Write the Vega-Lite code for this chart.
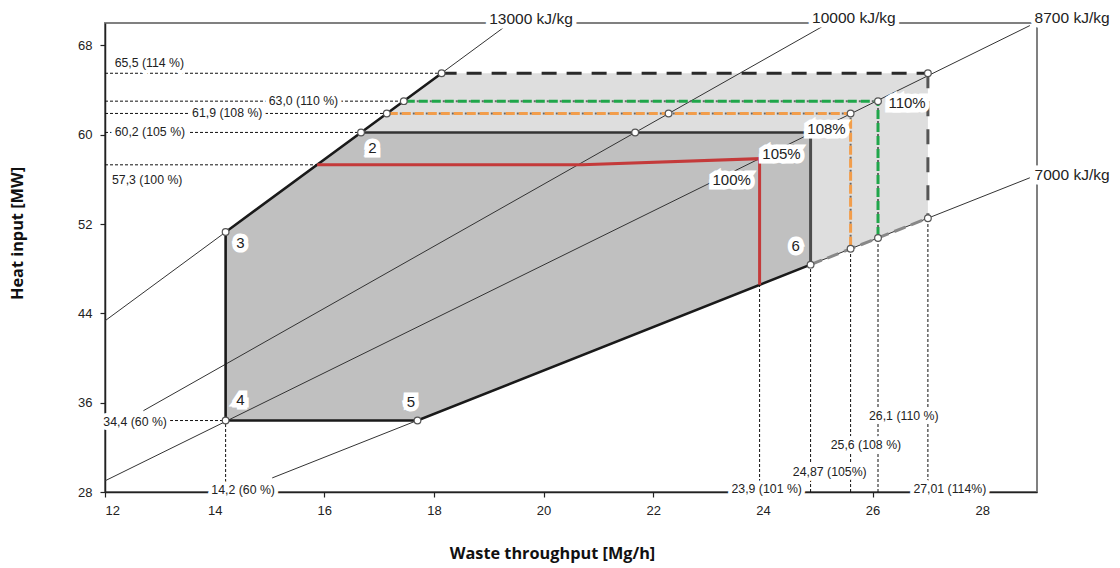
{
  "$schema": "https://vega.github.io/schema/vega-lite/v6.json",
  "width": 932,
  "height": 469,
  "autosize": {"type": "none"},
  "padding": {"left": 105, "top": 23, "right": 83, "bottom": 76},
  "config": {
    "view": {"stroke": "#808080", "strokeWidth": 2},
    "font": "Liberation Sans"
  },
  "datasets": {
    "areaLight": [
      {"x": 16.67, "y": 60.2, "y2": 60.2},
      {"x": 18.14, "y": 65.5, "y2": 60.2},
      {"x": 24.87, "y": 65.5, "y2": 48.36},
      {"x": 27.01, "y": 65.5, "y2": 52.52}
    ],
    "areaDark": [
      {"x": 14.2, "y": 51.28, "y2": 34.4},
      {"x": 16.67, "y": 60.2, "y2": 34.4},
      {"x": 17.7, "y": 60.2, "y2": 34.4},
      {"x": 24.87, "y": 60.2, "y2": 48.36}
    ],
    "lines": [
      {"s": "thin", "id": "L13", "o": 0, "x": 12, "y": 43.33},
      {"s": "thin", "id": "L13", "o": 1, "x": 19.27, "y": 69.59},
      {"s": "thin", "id": "L10", "o": 0, "x": 12.7, "y": 35.28},
      {"s": "thin", "id": "L10", "o": 1, "x": 25.07, "y": 69.64},
      {"s": "thin", "id": "L87", "o": 0, "x": 12, "y": 29.0},
      {"s": "thin", "id": "L87", "o": 1, "x": 28.87, "y": 69.77},
      {"s": "thin", "id": "L70", "o": 0, "x": 15.05, "y": 29.26},
      {"s": "thin", "id": "L70", "o": 1, "x": 28.87, "y": 56.14},

      {"s": "ref", "id": "H655", "o": 0, "x": 12, "y": 65.5},
      {"s": "ref", "id": "H655", "o": 1, "x": 18.14, "y": 65.5},
      {"s": "ref", "id": "H630", "o": 0, "x": 12, "y": 63.0},
      {"s": "ref", "id": "H630", "o": 1, "x": 17.45, "y": 63.0},
      {"s": "ref", "id": "H619", "o": 0, "x": 12, "y": 61.9},
      {"s": "ref", "id": "H619", "o": 1, "x": 17.14, "y": 61.9},
      {"s": "ref", "id": "H602", "o": 0, "x": 12, "y": 60.2},
      {"s": "ref", "id": "H602", "o": 1, "x": 16.67, "y": 60.2},
      {"s": "ref", "id": "H573", "o": 0, "x": 12, "y": 57.3},
      {"s": "ref", "id": "H573", "o": 1, "x": 15.87, "y": 57.3},
      {"s": "ref", "id": "H344", "o": 0, "x": 12, "y": 34.4},
      {"s": "ref", "id": "H344", "o": 1, "x": 14.2, "y": 34.4},
      {"s": "ref", "id": "V142", "o": 0, "x": 14.2, "y": 28},
      {"s": "ref", "id": "V142", "o": 1, "x": 14.2, "y": 34.4},
      {"s": "ref", "id": "V239", "o": 0, "x": 23.94, "y": 28},
      {"s": "ref", "id": "V239", "o": 1, "x": 23.94, "y": 46.55},
      {"s": "ref", "id": "V2487", "o": 0, "x": 24.87, "y": 28},
      {"s": "ref", "id": "V2487", "o": 1, "x": 24.87, "y": 48.36},
      {"s": "ref", "id": "V256", "o": 0, "x": 25.6, "y": 28},
      {"s": "ref", "id": "V256", "o": 1, "x": 25.6, "y": 49.78},
      {"s": "ref", "id": "V261", "o": 0, "x": 26.1, "y": 28},
      {"s": "ref", "id": "V261", "o": 1, "x": 26.1, "y": 50.75},
      {"s": "ref", "id": "V2701", "o": 0, "x": 27.01, "y": 28},
      {"s": "ref", "id": "V2701", "o": 1, "x": 27.01, "y": 52.52},

      {"s": "bound", "id": "B1", "o": 0, "x": 18.14, "y": 65.5},
      {"s": "bound", "id": "B1", "o": 1, "x": 16.67, "y": 60.2},
      {"s": "bound", "id": "B1", "o": 2, "x": 14.2, "y": 51.28},
      {"s": "bound", "id": "B1", "o": 3, "x": 14.2, "y": 34.4},
      {"s": "bound", "id": "B1", "o": 4, "x": 17.7, "y": 34.4},
      {"s": "bound", "id": "B1", "o": 5, "x": 24.87, "y": 48.36},
      {"s": "bound2", "id": "B2", "o": 0, "x": 16.67, "y": 60.2},
      {"s": "bound2", "id": "B2", "o": 1, "x": 24.87, "y": 60.2},
      {"s": "bound3", "id": "B3", "o": 0, "x": 24.87, "y": 60.2},
      {"s": "bound3", "id": "B3", "o": 1, "x": 24.87, "y": 48.36},

      {"s": "dashTop", "id": "D1", "o": 0, "x": 18.14, "y": 65.5},
      {"s": "dashTop", "id": "D1", "o": 1, "x": 27.01, "y": 65.5},
      {"s": "dashRight", "id": "D2", "o": 0, "x": 27.01, "y": 65.5},
      {"s": "dashRight", "id": "D2", "o": 1, "x": 27.01, "y": 52.52},
      {"s": "dashLow", "id": "D3", "o": 0, "x": 24.87, "y": 48.36},
      {"s": "dashLow", "id": "D3", "o": 1, "x": 27.01, "y": 52.52},

      {"s": "orange", "id": "O", "o": 0, "x": 17.14, "y": 61.9},
      {"s": "orange", "id": "O", "o": 1, "x": 25.6, "y": 61.9},
      {"s": "orange", "id": "O", "o": 2, "x": 25.6, "y": 49.78},
      {"s": "green", "id": "G", "o": 0, "x": 17.45, "y": 63.0},
      {"s": "green", "id": "G", "o": 1, "x": 26.1, "y": 63.0},
      {"s": "green", "id": "G", "o": 2, "x": 26.1, "y": 50.75},

      {"s": "red", "id": "R", "o": 0, "x": 15.87, "y": 57.3},
      {"s": "red", "id": "R", "o": 1, "x": 20.7, "y": 57.3},
      {"s": "red", "id": "R", "o": 2, "x": 23.94, "y": 57.85},
      {"s": "red", "id": "R", "o": 3, "x": 23.94, "y": 46.55}
    ],
    "circles": [
      {"x": 18.14, "y": 65.5}, {"x": 17.45, "y": 63.0}, {"x": 17.14, "y": 61.9},
      {"x": 16.67, "y": 60.2}, {"x": 14.2, "y": 51.28}, {"x": 14.2, "y": 34.4},
      {"x": 17.7, "y": 34.4}, {"x": 24.87, "y": 48.36}, {"x": 25.6, "y": 49.78},
      {"x": 26.1, "y": 50.75}, {"x": 27.01, "y": 52.52}, {"x": 27.01, "y": 65.5},
      {"x": 26.1, "y": 63.0}, {"x": 25.6, "y": 61.9}, {"x": 21.67, "y": 60.2},
      {"x": 22.28, "y": 61.9}
    ],
    "small": [
      {"t": "65,5 (114 %)", "x": 12.81, "y": 66.46},
      {"t": "63,0 (110 %)", "x": 15.62, "y": 63.0},
      {"t": "61,9 (108 %)", "x": 14.23, "y": 61.9},
      {"t": "60,2 (105 %)", "x": 12.82, "y": 60.2},
      {"t": "57,3 (100 %)", "x": 12.77, "y": 55.9},
      {"t": "34,4 (60 %)", "x": 12.55, "y": 34.3},
      {"t": "14,2 (60 %)", "x": 14.52, "y": 28.2},
      {"t": "23,9 (101 %)", "x": 24.07, "y": 28.25},
      {"t": "24,87 (105%)", "x": 25.22, "y": 29.8},
      {"t": "25,6 (108 %)", "x": 25.88, "y": 32.2},
      {"t": "26,1 (110 %)", "x": 26.57, "y": 34.8},
      {"t": "27,01 (114%)", "x": 27.41, "y": 28.25}
    ],
    "big": [
      {"t": "100%", "x": 23.43, "y": 55.9},
      {"t": "105%", "x": 24.34, "y": 58.3},
      {"t": "108%", "x": 25.16, "y": 60.47},
      {"t": "110%", "x": 26.63, "y": 62.8},
      {"t": "2", "x": 16.88, "y": 58.77},
      {"t": "3", "x": 14.47, "y": 50.3},
      {"t": "4", "x": 14.47, "y": 36.2},
      {"t": "5", "x": 17.58, "y": 36.1},
      {"t": "6", "x": 24.6, "y": 50.0}
    ],
    "lhv": [
      {"t": "13000 kJ/kg", "x": 19.77, "y": 70.4},
      {"t": "10000 kJ/kg", "x": 25.66, "y": 70.45},
      {"t": "8700 kJ/kg", "x": 29.64, "y": 70.45},
      {"t": "7000 kJ/kg", "x": 29.64, "y": 56.35}
    ]
  },
  "encoding": {
    "x": {
      "field": "x", "type": "quantitative",
      "scale": {"domain": [12, 29], "nice": false, "zero": false},
      "axis": {
        "title": "Waste throughput [Mg/h]",
        "zindex": 0,
        "values": [12, 14, 16, 18, 20, 22, 24, 26, 28],
        "grid": false,
        "domainColor": "#222", "domainWidth": 1.5,
        "tickColor": "#222", "tickSize": 5, "tickWidth": 1.2,
        "labelFont": "Liberation Sans", "labelFontSize": 13, "labelColor": "#222", "labelPadding": 7,
        "titleFont": "Open Sans", "titleFontWeight": "bold", "titleFontSize": 16.3, "titleColor": "#111",
        "titleX": 447, "titleY": 61, "titleBaseline": "middle", "titleAlign": "center"
      }
    },
    "y": {
      "field": "y", "type": "quantitative",
      "scale": {"domain": [28, 70], "nice": false, "zero": false},
      "axis": {
        "title": "Heat input [MW]",
        "zindex": 0,
        "values": [28, 36, 44, 52, 60, 68],
        "grid": false,
        "domainColor": "#222", "domainWidth": 1.5,
        "tickColor": "#222", "tickSize": 5, "tickWidth": 1.2,
        "labelFont": "Liberation Sans", "labelFontSize": 13, "labelColor": "#222", "labelPadding": 8,
        "titleFont": "Open Sans", "titleFontWeight": "bold", "titleFontSize": 16.3, "titleColor": "#111",
        "titleX": -88, "titleY": 210, "titleBaseline": "middle", "titleAlign": "center"
      }
    }
  },
  "layer": [
    {"data": {"name": "areaLight"}, "mark": {"type": "area", "color": "#dedede", "opacity": 1}, "encoding": {"y2": {"field": "y2"}}},
    {"data": {"name": "areaDark"}, "mark": {"type": "area", "color": "#c0c0c0", "opacity": 1}, "encoding": {"y2": {"field": "y2"}}},
    {"data": {"name": "lines"}, "transform": [{"filter": {"field": "s", "equal": "thin"}}],
     "mark": {"type": "line", "color": "#333", "strokeWidth": 1},
     "encoding": {"detail": {"field": "id"}, "order": {"field": "o", "type": "quantitative"}}},
    {"data": {"name": "lines"}, "transform": [{"filter": {"field": "s", "equal": "ref"}}],
     "mark": {"type": "line", "color": "#111", "strokeWidth": 1, "strokeDash": [3, 2]},
     "encoding": {"detail": {"field": "id"}, "order": {"field": "o", "type": "quantitative"}}},
    {"data": {"name": "lines"}, "transform": [{"filter": {"field": "s", "equal": "bound"}}],
     "mark": {"type": "line", "color": "#1a1a1a", "strokeWidth": 2.6},
     "encoding": {"detail": {"field": "id"}, "order": {"field": "o", "type": "quantitative"}}},
    {"data": {"name": "lines"}, "transform": [{"filter": {"field": "s", "equal": "bound2"}}],
     "mark": {"type": "line", "color": "#333", "strokeWidth": 2.6},
     "encoding": {"detail": {"field": "id"}, "order": {"field": "o", "type": "quantitative"}}},
    {"data": {"name": "lines"}, "transform": [{"filter": {"field": "s", "equal": "bound3"}}],
     "mark": {"type": "line", "color": "#4d4d4d", "strokeWidth": 3},
     "encoding": {"detail": {"field": "id"}, "order": {"field": "o", "type": "quantitative"}}},
    {"data": {"name": "lines"}, "transform": [{"filter": {"field": "s", "equal": "dashTop"}}],
     "mark": {"type": "line", "color": "#2a2a2a", "strokeWidth": 3, "strokeDash": [15, 10]},
     "encoding": {"detail": {"field": "id"}, "order": {"field": "o", "type": "quantitative"}}},
    {"data": {"name": "lines"}, "transform": [{"filter": {"field": "s", "equal": "dashRight"}}],
     "mark": {"type": "line", "color": "#555", "strokeWidth": 3, "strokeDash": [15, 13]},
     "encoding": {"detail": {"field": "id"}, "order": {"field": "o", "type": "quantitative"}}},
    {"data": {"name": "lines"}, "transform": [{"filter": {"field": "s", "equal": "dashLow"}}],
     "mark": {"type": "line", "color": "#888", "strokeWidth": 3, "strokeDash": [12, 6]},
     "encoding": {"detail": {"field": "id"}, "order": {"field": "o", "type": "quantitative"}}},
    {"data": {"name": "lines"}, "transform": [{"filter": {"field": "s", "oneOf": ["orange", "green"]}}],
     "mark": {"type": "line", "color": "#666", "strokeWidth": 2, "strokeDash": [2, 11]},
     "encoding": {"detail": {"field": "id"}, "order": {"field": "o", "type": "quantitative"}}},
    {"data": {"name": "lines"}, "transform": [{"filter": {"field": "s", "equal": "orange"}}],
     "mark": {"type": "line", "color": "#f29d4b", "strokeWidth": 3, "strokeDash": [9, 4], "strokeDashOffset": 11},
     "encoding": {"detail": {"field": "id"}, "order": {"field": "o", "type": "quantitative"}}},
    {"data": {"name": "lines"}, "transform": [{"filter": {"field": "s", "equal": "green"}}],
     "mark": {"type": "line", "color": "#1fa64a", "strokeWidth": 3, "strokeDash": [9, 4], "strokeDashOffset": 11},
     "encoding": {"detail": {"field": "id"}, "order": {"field": "o", "type": "quantitative"}}},
    {"data": {"name": "lines"}, "transform": [{"filter": {"field": "s", "equal": "red"}}],
     "mark": {"type": "line", "color": "#c43a3a", "strokeWidth": 3},
     "encoding": {"detail": {"field": "id"}, "order": {"field": "o", "type": "quantitative"}}},
    {"data": {"name": "circles"},
     "mark": {"type": "point", "filled": true, "fill": "white", "stroke": "#555", "strokeWidth": 1.2, "size": 45, "opacity": 1}},
    {"data": {"name": "small"},
     "mark": {"type": "text", "font": "Liberation Sans", "fontSize": 12.3, "fill": "white", "stroke": "white", "strokeWidth": 8, "strokeJoin": "round", "align": "center", "baseline": "middle"},
     "encoding": {"text": {"field": "t"}}},
    {"data": {"name": "big"},
     "mark": {"type": "text", "font": "Liberation Sans", "fontSize": 15, "fill": "white", "stroke": "white", "strokeWidth": 9, "strokeJoin": "miter", "align": "center", "baseline": "middle"},
     "encoding": {"text": {"field": "t"}}},
    {"data": {"name": "lhv"},
     "mark": {"type": "text", "font": "Liberation Sans", "fontSize": 15.5, "fill": "white", "stroke": "white", "strokeWidth": 9, "strokeJoin": "round", "align": "center", "baseline": "middle"},
     "encoding": {"text": {"field": "t"}}},
    {"data": {"name": "small"},
     "mark": {"type": "text", "font": "Liberation Sans", "fontSize": 12.3, "color": "#222", "align": "center", "baseline": "middle"},
     "encoding": {"text": {"field": "t"}}},
    {"data": {"name": "big"},
     "mark": {"type": "text", "font": "Liberation Sans", "fontSize": 15, "color": "#222", "align": "center", "baseline": "middle"},
     "encoding": {"text": {"field": "t"}}},
    {"data": {"name": "lhv"},
     "mark": {"type": "text", "font": "Liberation Sans", "fontSize": 15.5, "color": "#222", "align": "center", "baseline": "middle"},
     "encoding": {"text": {"field": "t"}}}
  ]
}
